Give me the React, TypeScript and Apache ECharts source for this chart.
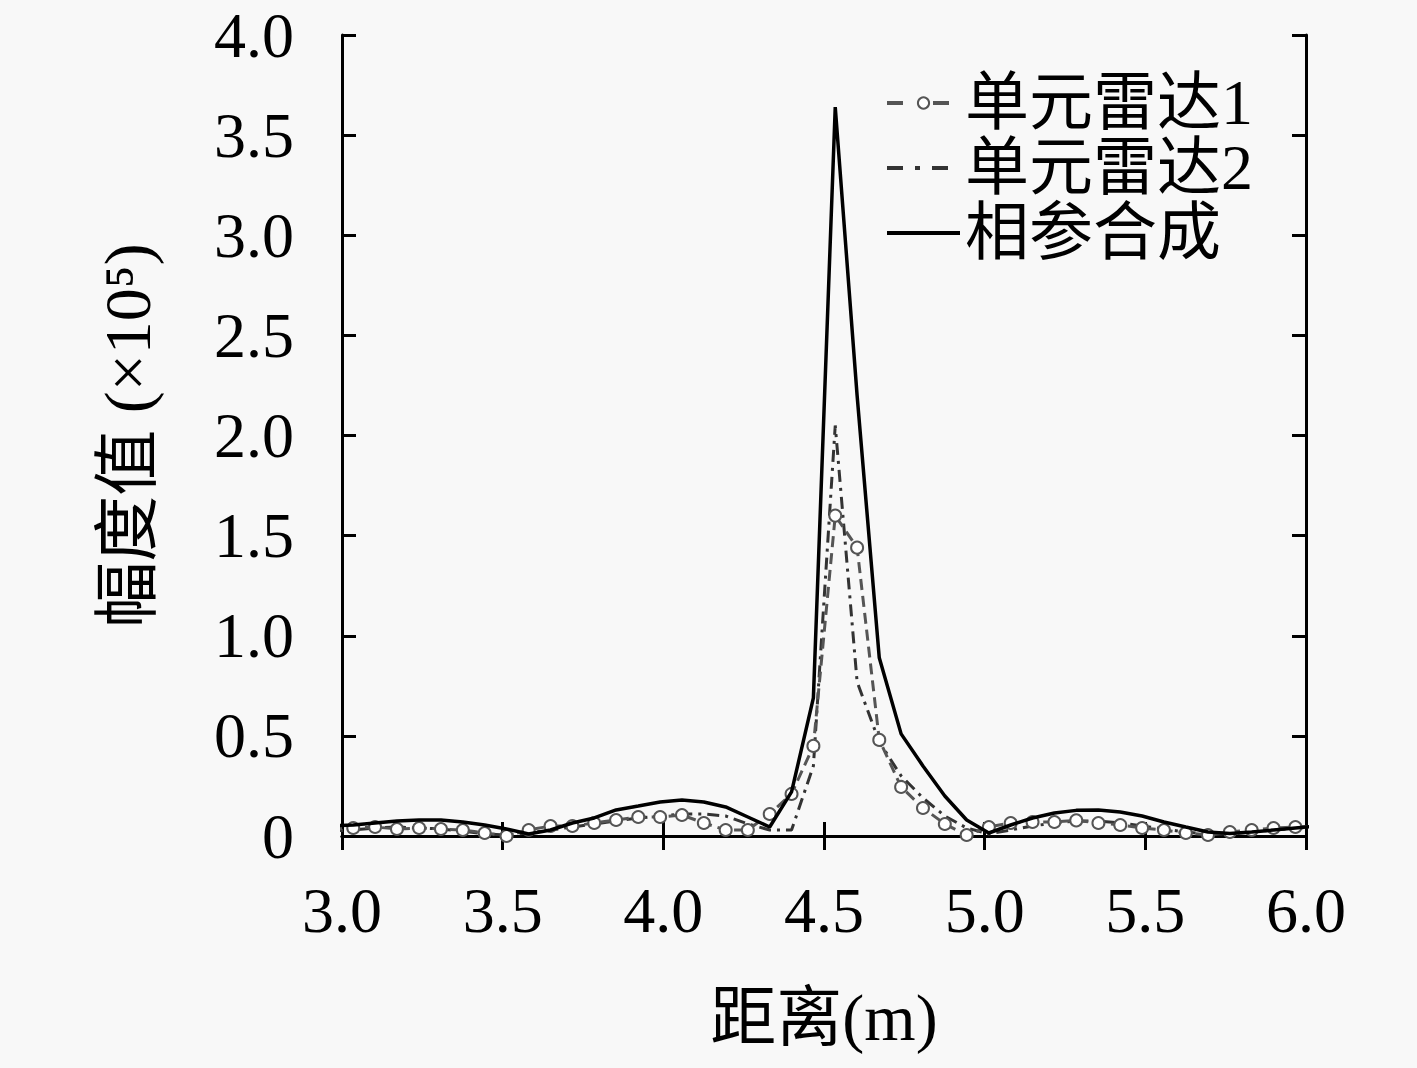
import React, { useEffect, useRef } from "react";
import * as echarts from "echarts";

// sample positions (m)
const distances = [
  2.966, 3.035, 3.103, 3.171, 3.240, 3.308, 3.376, 3.444, 3.512, 3.581, 3.649,
  3.717, 3.785, 3.853, 3.922, 3.990, 4.058, 4.126, 4.194, 4.263, 4.331, 4.399,
  4.467, 4.535, 4.603, 4.672, 4.740, 4.808, 4.876, 4.944, 5.013, 5.081, 5.149,
  5.217, 5.285, 5.354, 5.422, 5.490, 5.558, 5.626, 5.695, 5.763, 5.831, 5.899,
  5.967, 6.036,
];

// 单元雷达1 (×10^5)
const radar1 = [
  0.035, 0.04, 0.045, 0.035, 0.04, 0.035, 0.03, 0.015, 0.0, 0.03, 0.05,
  0.05, 0.065, 0.08, 0.095, 0.095, 0.105, 0.065, 0.03, 0.03, 0.11, 0.21,
  0.45, 1.6, 1.44, 0.48, 0.245, 0.14, 0.06, 0.005, 0.045, 0.065, 0.07,
  0.07, 0.078, 0.065, 0.055, 0.04, 0.03, 0.015, 0.005, 0.02, 0.03, 0.04,
  0.045, 0.05,
];

// 单元雷达2 (×10^5)
const radar2 = [
  0.025, 0.03, 0.04, 0.045, 0.04, 0.035, 0.025, 0.01, 0.005, 0.015, 0.03,
  0.045, 0.06, 0.075, 0.09, 0.1, 0.11, 0.11, 0.1, 0.06, 0.03, 0.03,
  0.35, 2.05, 0.77, 0.47, 0.3, 0.19, 0.1, 0.04, 0.01, 0.03, 0.05,
  0.065, 0.075, 0.075, 0.065, 0.05, 0.035, 0.02, 0.01, 0.01, 0.02, 0.03,
  0.04, 0.045,
];

// 相参合成 (×10^5)
const coherent = [
  0.05, 0.055, 0.065, 0.075, 0.08, 0.08, 0.07, 0.055, 0.035, 0.01, 0.03,
  0.065, 0.09, 0.13, 0.15, 0.17, 0.18, 0.17, 0.145, 0.095, 0.045, 0.22,
  0.69, 3.64, 2.2, 0.89, 0.51, 0.35, 0.2, 0.08, 0.015, 0.055, 0.09,
  0.115, 0.128, 0.13, 0.12, 0.1, 0.07, 0.045, 0.02, 0.012, 0.02, 0.03,
  0.04, 0.05,
];

const seriesNames = ["单元雷达1", "单元雷达2", "相参合成"];
const xTicks = [3.0, 3.5, 4.0, 4.5, 5.0, 5.5, 6.0];
const yTicks = [0, 0.5, 1.0, 1.5, 2.0, 2.5, 3.0, 3.5, 4.0];

const FONT = "'Liberation Serif', 'Noto Sans CJK SC', serif";

const pair = (arr: number[]) => distances.map((x, i) => [x, arr[i]]);

export default function App() {
  const ref = useRef<HTMLDivElement>(null);
  useEffect(() => {
    document.body.style.margin = "0";
    document.body.style.background = "#f8f8f8";
    if (!ref.current) return;
    const chart = echarts.init(ref.current, null, { renderer: "svg" });
    const tickLen = 14;
    const axisCommon = {
      axisLine: { show: true, lineStyle: { color: "#000", width: 3 } },
      axisTick: { show: true, inside: true, length: tickLen, lineStyle: { color: "#000", width: 3 } },
      splitLine: { show: false },
    };
    chart.setOption({
      animation: false,
      backgroundColor: "#f8f8f8",
      grid: { left: 342, top: 35, right: 111, bottom: 232, containLabel: false },
      legend: {
        orient: "vertical",
        left: 880,
        top: 66,
        padding: 5,
        itemWidth: 73,
        itemHeight: 14,
        itemGap: 1,
        data: [
          { name: seriesNames[0], lineStyle: { width: 4, type: [16, 30] }, itemStyle: { borderWidth: 4 } },
          { name: seriesNames[1], lineStyle: { width: 4, type: [16, 12, 5, 12] }, itemStyle: { opacity: 0 } },
          { name: seriesNames[2], lineStyle: { width: 4 }, itemStyle: { opacity: 0 } },
        ],
        textStyle: { fontSize: 64, fontFamily: FONT, color: "#000" },
      },
      xAxis: [
        {
          type: "value",
          min: xTicks[0],
          max: xTicks[xTicks.length - 1],
          interval: 0.5,
          ...axisCommon,
          axisLabel: {
            fontSize: 64,
            fontFamily: FONT,
            color: "#000",
            margin: 42,
            formatter: (v: number) => v.toFixed(1),
          },
          name: "距离(m)",
          nameLocation: "middle",
          nameGap: 148,
          nameTextStyle: { fontSize: 66, fontFamily: FONT, color: "#000" },
        },
        {
          type: "value",
          position: "top",
          min: xTicks[0],
          max: xTicks[xTicks.length - 1],
          interval: 0.5,
          ...axisCommon,
          axisLabel: { show: false },
        },
      ],
      yAxis: [
        {
          type: "value",
          min: yTicks[0],
          max: yTicks[yTicks.length - 1],
          interval: 0.5,
          ...axisCommon,
          axisLabel: {
            fontSize: 64,
            fontFamily: FONT,
            color: "#000",
            margin: 48,
            formatter: (v: number) => (v === 0 ? "0" : v.toFixed(1)),
          },
          name: "幅度值 (×10⁵)",
          nameLocation: "middle",
          nameGap: 182,
          nameTextStyle: { fontSize: 66, fontFamily: FONT, color: "#000" },
        },
        {
          type: "value",
          position: "right",
          min: yTicks[0],
          max: yTicks[yTicks.length - 1],
          interval: 0.5,
          ...axisCommon,
          axisLabel: { show: false },
        },
      ],
      series: [
        {
          name: seriesNames[0],
          type: "line",
          data: pair(radar1),
          clip: true,
          symbol: "emptyCircle",
          symbolSize: 12,
          showSymbol: true,
          itemStyle: { color: "#555", borderWidth: 3 },
          lineStyle: { color: "#555", width: 3, type: [11, 6] },
          z: 3,
        },
        {
          name: seriesNames[1],
          type: "line",
          data: pair(radar2),
          clip: true,
          symbol: "none",
          itemStyle: { color: "#333" },
          lineStyle: { color: "#333", width: 3, type: [12, 6, 3, 6] },
          z: 2,
        },
        {
          name: seriesNames[2],
          type: "line",
          data: pair(coherent),
          clip: true,
          symbol: "none",
          itemStyle: { color: "#000" },
          lineStyle: { color: "#000", width: 3.5 },
          z: 4,
        },
      ],
    });
    return () => chart.dispose();
  }, []);
  return <div ref={ref} style={{ width: 1417, height: 1068 }} />;
}
